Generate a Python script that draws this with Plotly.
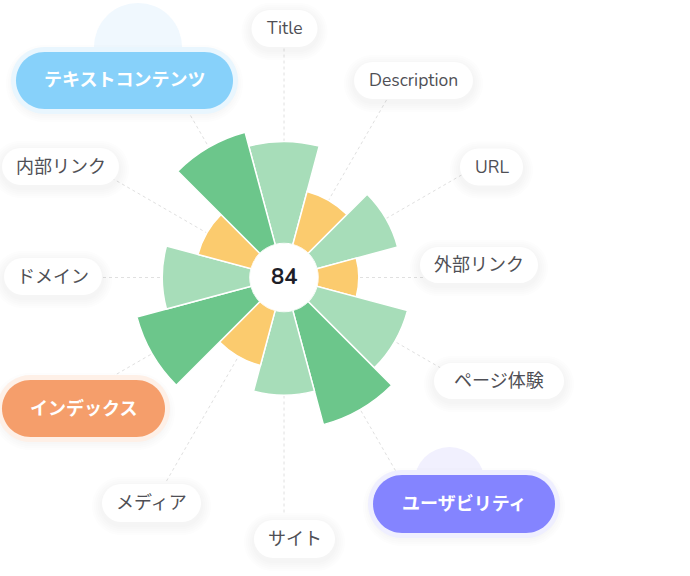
import plotly.graph_objects as go

W, H = 690, 576

# ---------------- data ----------------
categories = ["Title", "Description", "URL", "外部リンク", "ページ体験", "ユーザビリティ",
              "サイト", "メディア", "インデックス", "ドメイン", "内部リンク", "テキストコンテンツ"]
scores = [50, 27, 41, 20, 46, 58, 41, 28, 58, 43, 27, 57]
total_score = 84
highlighted = ["テキストコンテンツ", "インデックス", "ユーザビリティ"]

# ---------------- style / layout ----------------
def bar_color(v):
    if v < 35:
        return "#FBCB6E"
    if v < 55:
        return "#A7DDB9"
    return "#6CC68B"

# pill boxes in pixels: (cx, cy, w, h)
label_boxes = {
    "Title": (284.5, 28.5, 66, 37),
    "Description": (413.5, 80.5, 119, 37),
    "URL": (491.5, 167, 63, 37),
    "外部リンク": (479, 265, 118, 36),
    "ページ体験": (499, 381, 130, 36),
    "ユーザビリティ": (464, 504, 182, 58),
    "サイト": (294.5, 539, 81, 38),
    "メディア": (151.5, 503, 99, 38),
    "インデックス": (83.5, 408.5, 163, 57),
    "ドメイン": (53, 276.5, 98, 37),
    "内部リンク": (60.5, 166.5, 117, 37),
    "テキストコンテンツ": (124.5, 80.5, 217, 57),
}
highlight_style = {
    "テキストコンテンツ": ("#87D1FA", "#E9F6FE"),
    "インデックス": ("#F59E6B", "#FEF0E7"),
    "ユーザビリティ": ("#8484FF", "#EFEFFF"),
}
deco_circles = [((138, 47), 44, "#F0F8FE"), ((449.5, 482), 35, "#F1F0FE")]

CX, CY, R, HOLE_PX = 284, 277.5, 238, 34
FONT = "Nunito, Lato, 'Noto Sans CJK JP', sans-serif"


def px(x):
    return x / W


def py(y):
    return 1 - y / H


def pill_path(cx, cy, w, h):
    r = h / 2
    k = 0.5523 * r
    xl, xr = cx - w / 2 + r, cx + w / 2 - r
    top, bot = cy - r, cy + r
    p = [
        f"M{px(xl)},{py(top)}",
        f"L{px(xr)},{py(top)}",
        f"C{px(xr + k)},{py(top)} {px(xr + r)},{py(cy - k)} {px(xr + r)},{py(cy)}",
        f"C{px(xr + r)},{py(cy + k)} {px(xr + k)},{py(bot)} {px(xr)},{py(bot)}",
        f"L{px(xl)},{py(bot)}",
        f"C{px(xl - k)},{py(bot)} {px(xl - r)},{py(cy + k)} {px(xl - r)},{py(cy)}",
        f"C{px(xl - r)},{py(cy - k)} {px(xl - k)},{py(top)} {px(xl)},{py(top)}",
        "Z",
    ]
    return " ".join(p)


fig = go.Figure()
fig.add_trace(go.Barpolar(
    r=scores,
    theta=categories,
    marker=dict(color=[bar_color(v) for v in scores], line=dict(color="white", width=1.5)),
    hoverinfo="skip",
))

shapes = []
for (ccx, ccy), rr, col in deco_circles:
    shapes.append(dict(type="circle", xref="paper", yref="paper",
                       x0=px(ccx - rr), x1=px(ccx + rr), y0=py(ccy + rr), y1=py(ccy - rr),
                       fillcolor=col, line=dict(width=0), layer="above"))

annotations = []
for cat in categories:
    cx, cy, w, h = label_boxes[cat]
    # soft shadow
    for s in (10, 8, 6, 4, 2):
        shapes.append(dict(type="path", xref="paper", yref="paper",
                           path=pill_path(cx, cy + 3, w + 2 * s, h + 2 * s),
                           fillcolor="rgba(60,60,90,0.011)", line=dict(width=0), layer="above"))
    if cat in highlight_style:
        fill, glow = highlight_style[cat]
        shapes.append(dict(type="path", xref="paper", yref="paper",
                           path=pill_path(cx, cy, w + 10, h + 10),
                           fillcolor=glow, line=dict(width=0), layer="above"))
        shapes.append(dict(type="path", xref="paper", yref="paper",
                           path=pill_path(cx, cy, w, h),
                           fillcolor=fill, line=dict(width=0), layer="above"))
        annotations.append(dict(x=px(cx), y=py(cy), xref="paper", yref="paper", text=cat,
                                showarrow=False, xanchor="center", yanchor="middle",
                                font=dict(family=FONT, size=18, color="white", weight=700)))
    else:
        shapes.append(dict(type="path", xref="paper", yref="paper",
                           path=pill_path(cx, cy, w, h),
                           fillcolor="white", line=dict(width=0), layer="above"))
        is_latin = cat.isascii()
        annotations.append(dict(x=px(cx), y=py(cy), xref="paper", yref="paper", text=cat,
                                showarrow=False, xanchor="center", yanchor="middle",
                                font=dict(family=FONT, size=17.5 if is_latin else 18,
                                          color="#4F4F55")))

annotations.append(dict(x=px(CX), y=py(CY), xref="paper", yref="paper", text=str(total_score),
                        showarrow=False, xanchor="center", yanchor="middle",
                        font=dict(family=FONT, size=22, color="#1E1E28", weight=700)))

fig.update_layout(
    width=W, height=H,
    margin=dict(l=0, r=0, t=0, b=0),
    paper_bgcolor="white",
    showlegend=False,
    polar=dict(
        domain=dict(x=[px(CX - R), px(CX + R)], y=[py(CY + R), py(CY - R)]),
        hole=HOLE_PX / R,
        bgcolor="white",
        bargap=0,
        radialaxis=dict(range=[0, 100], visible=False, showgrid=False),
        angularaxis=dict(direction="clockwise", rotation=90, showline=False, ticks="",
                         showticklabels=False, showgrid=True, gridcolor="#E0E0E0",
                         griddash="3px,3px", gridwidth=1, layer="below traces"),
    ),
    shapes=shapes,
    annotations=annotations,
)

fig.write_html("out.html", config={"displayModeBar": False},
               post_script="document.body.style.margin='0';")
